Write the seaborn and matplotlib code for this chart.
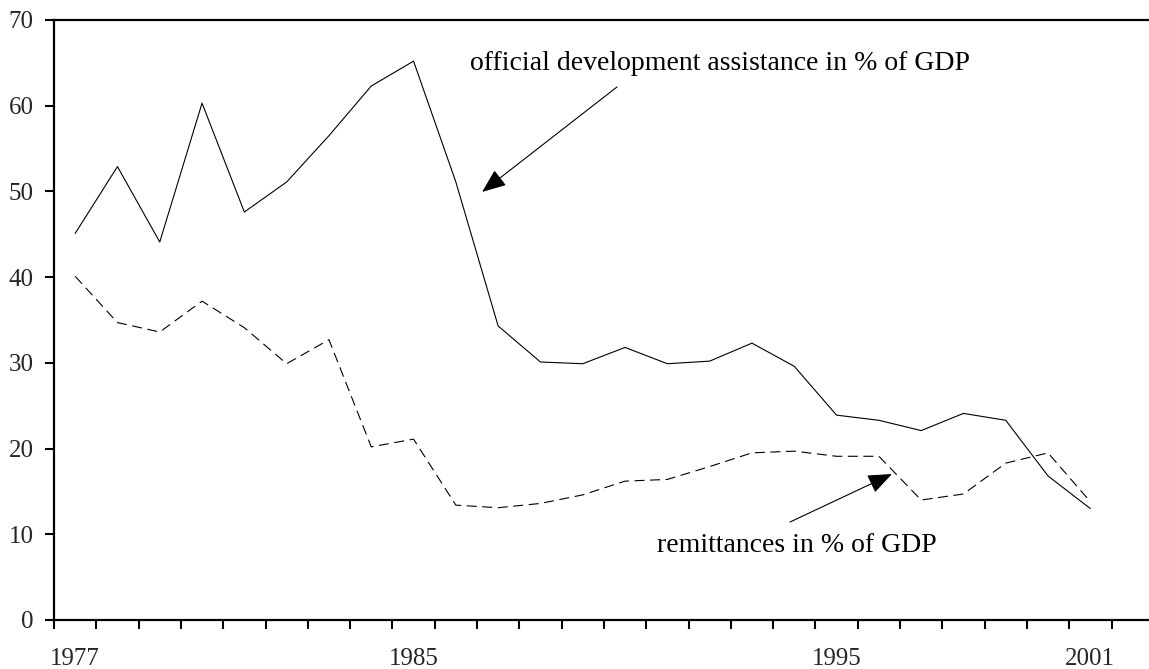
"""
ODA vs remittances, in % of GDP, 1977-2001
"""

import numpy as np
import pandas as pd
import matplotlib
matplotlib.use('Agg')
import matplotlib.pyplot as plt
import seaborn as sns

# Data
years = list(range(1977, 2002))
oda_pct = [45.1, 52.9, 44.1, 60.3, 47.6, 51.1, 56.5, 62.3, 65.2, 51.1,
           34.3, 30.1, 29.9, 31.8, 29.9, 30.2, 32.3, 29.6, 23.9, 23.3,
           22.1, 24.1, 23.3, 16.8, 13.0]
remit_pct = [40.1, 34.7, 33.6, 37.2, 34.1, 29.9, 32.7, 20.2, 21.1, 13.4,
             13.1, 13.6, 14.6, 16.2, 16.4, 17.9, 19.5, 19.7, 19.1, 19.1,
             14.0, 14.7, 18.3, 19.5, 13.8]
label_years = [1977, 1985, 1995, 2001]
y_ticks = [0, 10, 20, 30, 40, 50, 60, 70]

df = pd.DataFrame({'year': years, 'oda': oda_pct, 'remit': remit_pct})

sns.set_theme(style='white')
plt.rcParams['font.family'] = ['Liberation Serif', 'DejaVu Serif']
plt.rcParams['font.size'] = 18

W, H = 1149, 669
fig = plt.figure(figsize=(W / 100, H / 100), dpi=100)
ax = fig.add_axes([54 / W, (H - 620) / H, 1 - 54 / W, 600 / H])

sns.lineplot(data=df, x='year', y='oda', ax=ax, color='black', linewidth=0.8)
sns.lineplot(data=df, x='year', y='remit', ax=ax, color='black', linewidth=0.8,
             linestyle=(0, (9, 5)))

# category-style x axis: ticks on boundaries, labels at centres
ax.set_xlim(1976.5, 1976.5 + (W - 54) / 42.3)
ax.set_ylim(0, 70)
ax.set_xticks(label_years)
ax.set_xticklabels([str(y) for y in label_years], fontsize=18)
ax.set_xticks(np.arange(1976.5, 2002, 1.0), minor=True)
ax.tick_params(axis='x', which='major', length=0, pad=20)
ax.tick_params(axis='x', which='minor', length=6.5, width=1.5, direction='out',
               bottom=True, color='black')
ax.set_yticks(y_ticks)
ax.set_yticklabels([str(v) for v in y_ticks], fontsize=18)
ax.tick_params(axis='y', which='major', length=6.5, width=1.5, direction='out',
               left=True, pad=8, color='black')
ax.set_xlabel('')
ax.set_ylabel('')

for side in ['left', 'bottom', 'top']:
    ax.spines[side].set_visible(True)
    ax.spines[side].set_linewidth(1.6)
    ax.spines[side].set_color('black')
ax.spines['right'].set_visible(False)

arrow = dict(arrowstyle='-|>,head_length=1.0,head_width=0.4', color='black',
             lw=0.8, shrinkA=0, shrinkB=0, mutation_scale=15)

ax.annotate('', xy=(1986.62, 49.94), xytext=(1989.81, 62.19), arrowprops=arrow)
ax.text(1986.33, 64.2, 'official development assistance in % of GDP',
        fontsize=20, ha='left', va='baseline', color='black')

ax.annotate('', xy=(1996.31, 17.03), xytext=(1993.90, 11.43), arrowprops=arrow)
ax.text(1990.76, 7.97, 'remittances in % of GDP',
        fontsize=20, ha='left', va='baseline', color='black')

fig.savefig('out.png', dpi=100)
